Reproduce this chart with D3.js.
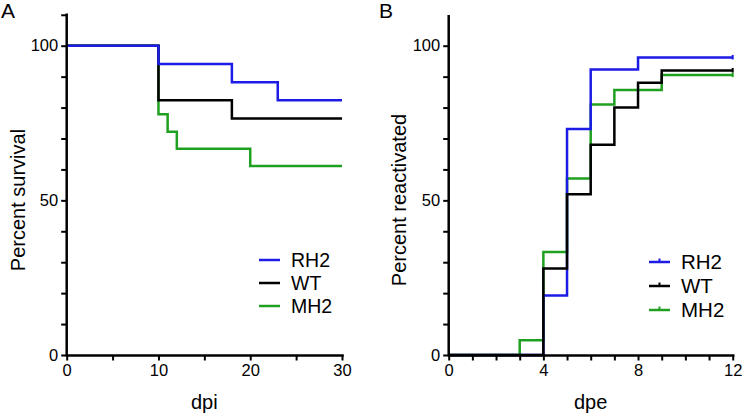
<!DOCTYPE html>
<html><head><meta charset="utf-8">
<script src="https://cdn.jsdelivr.net/npm/d3@7"></script>
<style>
html,body{margin:0;padding:0;background:#fff;}
svg text{font-family:"Liberation Sans",Arial,Helvetica,sans-serif;fill:#000;}
</style></head>
<body>
<svg id="chart" width="742" height="415"></svg>
<script>
// ---- Data ----
const seriesNames = ["RH2", "WT", "MH2"];
const seriesColors = {RH2: "#1c1ce6", WT: "#000000", MH2: "#20a020"};

// Panel A: survival (dpi)
const aTimeRH2 = [0, 10, 18, 23, 30];
const aSurvRH2 = [100, 94.1, 88.2, 82.4, 82.4];
const aTimeWT  = [0, 10, 18, 30];
const aSurvWT  = [100, 82.4, 76.5, 76.5];
const aTimeMH2 = [0, 10, 11, 12, 20, 30];
const aSurvMH2 = [100, 77.8, 72.2, 66.7, 61.1, 61.1];

// Panel B: reactivation (dpe)
const bTimeRH2 = [0, 4, 5, 6, 8, 12];
const bReacRH2 = [0, 19.2, 73.1, 92.3, 96.2, 96.2];
const bTimeWT  = [0, 4, 5, 6, 7, 8, 9, 12];
const bReacWT  = [0, 28, 52, 68, 80, 88, 92, 92];
const bTimeMH2 = [0, 3, 4, 5, 6, 7, 9, 12];
const bReacMH2 = [0, 4.8, 33.3, 57.1, 81, 85.7, 90.5, 90.5];

const aXTicks = [0, 10, 20, 30];
const aXMinor = [0, 5, 10, 15, 20, 25, 30];
const bXTicks = [0, 4, 8, 12];
const bXMinor = [0,1,2,3,4,5,6,7,8,9,10,11,12];
const yTicks = [0, 50, 100];
const aYMinor = [0,10,20,30,40,50,60,70,80,90,100,110];
const bYMinor = [0,10,20,30,40,50,60,70,80,90,100];

const zip = (t, v) => t.map((d, i) => ({t: d, v: v[i]}));

const svg = d3.select("#chart");
const LW = 2.5;

function panel(opts) {
  const g = svg.append("g");
  const x = d3.scaleLinear().domain(opts.xDomain).range(opts.xRange);
  const y = d3.scaleLinear().domain([0, 100]).range([355, 45.7]);
  const line = d3.line().x(d => x(d.t)).y(d => y(d.v)).curve(d3.curveStepAfter);

  // curves
  opts.order.forEach(name => {
    const data = opts.data[name];
    g.append("path").datum(data).attr("d", line)
      .attr("fill", "none").attr("stroke", seriesColors[name])
      .attr("stroke-width", LW).attr("stroke-linejoin", "miter");
    if (opts.censor) {
      const last = data[data.length - 1];
      g.append("line").attr("x1", x(last.t)).attr("x2", x(last.t))
        .attr("y1", y(last.v) - 2.5).attr("y2", y(last.v) + 2)
        .attr("stroke", seriesColors[name]).attr("stroke-width", 2);
    }
  });

  // x axis
  const xAxis = d3.axisBottom(x).tickValues(opts.xMinor).tickSize(5.5).tickSizeOuter(0)
    .tickFormat(d => opts.xTicks.includes(d) ? d : "");
  const gx = g.append("g").attr("transform", "translate(0,355)").call(xAxis);
  // y axis
  const yAxis = d3.axisLeft(y).tickValues(opts.yMinor).tickSize(5.5).tickSizeOuter(0)
    .tickFormat(d => yTicks.includes(d) ? d : "");
  const gy = g.append("g").attr("transform", `translate(${opts.xRange[0]},0)`).call(yAxis);
  gy.select(".domain").attr("d", `M0,${y(0)}V${y(opts.yTop)}`);
  [gx, gy].forEach(ax => {
    ax.select(".domain").attr("stroke", "#000").attr("stroke-width", LW).attr("stroke-linecap", "square");
    ax.selectAll(".tick line").attr("stroke", "#000").attr("stroke-width", 2);
    ax.selectAll("text").attr("font-size", 16.5).attr("font-family", "Liberation Sans, Arial, sans-serif");
  });
  gx.selectAll(".tick text").attr("y", 9);
  gy.selectAll(".tick text").attr("x", -8.5);

  // axis titles
  g.append("text").attr("x", (opts.xRange[0] + opts.xRange[1]) / 2).attr("y", 409)
    .attr("text-anchor", "middle").attr("font-size", 20).text(opts.xTitle);
  g.append("text").attr("transform", `translate(${opts.yTitleX},200) rotate(-90)`)
    .attr("text-anchor", "middle").attr("font-size", 20).text(opts.yTitle);
  // panel label
  g.append("text").attr("x", opts.labelX).attr("y", 18).attr("font-size", 21).text(opts.label);

  // legend
  seriesNames.forEach((name, i) => {
    const ly = opts.legY + i * opts.legStep;
    g.append("line").attr("x1", opts.legX).attr("x2", opts.legX + 21)
      .attr("y1", ly).attr("y2", ly).attr("stroke", seriesColors[name]).attr("stroke-width", LW);
    if (opts.censor) {
      g.append("line").attr("x1", opts.legX + 10.5).attr("x2", opts.legX + 10.5)
        .attr("y1", ly - 3.5).attr("y2", ly).attr("stroke", seriesColors[name]).attr("stroke-width", 2);
    }
    g.append("text").attr("x", opts.legX + 32).attr("y", ly).attr("dy", "0.35em")
      .attr("font-size", opts.legFont).text(name);
  });
}

panel({
  xDomain: [0, 30], xRange: [66.7, 342], xTicks: aXTicks, xMinor: aXMinor, yMinor: aYMinor, yTop: 110,
  data: {RH2: zip(aTimeRH2, aSurvRH2), WT: zip(aTimeWT, aSurvWT), MH2: zip(aTimeMH2, aSurvMH2)},
  order: ["MH2", "WT", "RH2"], censor: false,
  xTitle: "dpi", yTitle: "Percent survival", yTitleX: 25, label: "A", labelX: 1,
  legX: 259, legY: 260, legStep: 23, legFont: 19.5
});

panel({
  xDomain: [0, 12], xRange: [448.7, 732.7], xTicks: bXTicks, xMinor: bXMinor, yMinor: bYMinor, yTop: 109.5,
  data: {RH2: zip(bTimeRH2, bReacRH2), WT: zip(bTimeWT, bReacWT), MH2: zip(bTimeMH2, bReacMH2)},
  order: ["MH2", "RH2", "WT"], censor: true,
  xTitle: "dpe", yTitle: "Percent reactivated", yTitleX: 406, label: "B", labelX: 379,
  legX: 649, legY: 262, legStep: 24, legFont: 20.5
});
</script>
</body></html>
